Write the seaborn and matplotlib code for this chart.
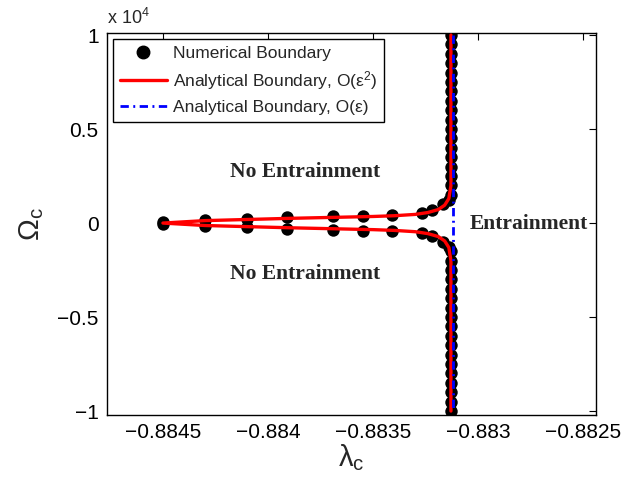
import numpy as np
import pandas as pd
import seaborn as sns
import matplotlib.pyplot as plt
from matplotlib.ticker import FuncFormatter, FixedLocator
from matplotlib.lines import Line2D

# numerical boundary points (lambda_c, Omega_c), upper branch then lower branch
num_lam_up = [-0.8845, -0.8843, -0.8841, -0.88391, -0.88369, -0.88355, -0.88341,
              -0.88327, -0.88322, -0.88317, -0.88314]
num_om_up = [60, 160, 210, 300, 370, 400, 430, 530, 690, 1010, 1250]
num_lam_lo = [-0.8845, -0.8843, -0.8841, -0.88391, -0.88369, -0.88355, -0.88341,
              -0.88327, -0.88322, -0.88317, -0.88314]
num_om_lo = [-60, -160, -210, -300, -370, -400, -430, -530, -690, -1010, -1250]
# points along the vertical part of the boundary
num_lam_vert = -0.88313
num_om_vert = [1500, 2000, 2500, 3000, 3500, 4000, 4500, 5000, 5500, 6000, 6500,
               7000, 7500, 8000, 8500, 9000, 9500, 10000,
               -1500, -2000, -2500, -3000, -3500, -4000, -4500, -5000, -5500, -6000,
               -6500, -7000, -7500, -8000, -8500, -9000, -9500, -10000]

# analytical O(eps^2) boundary, traced from the top, through the tip, to the bottom
an2_lam = [-0.88313, -0.88313, -0.88314, -0.88316, -0.88319, -0.88324, -0.8833,
           -0.8834, -0.8835, -0.8837, -0.8839, -0.8841, -0.8843, -0.8845,
           -0.8843, -0.8841, -0.8839, -0.8837, -0.8835, -0.8834, -0.8833,
           -0.88324, -0.88319, -0.88316, -0.88314, -0.88313, -0.88313]
an2_om = [10000, 2000, 1300, 950, 720, 560, 460, 390, 350, 300, 250, 190, 130, 0,
          -130, -190, -250, -300, -350, -390, -460, -560, -720, -950, -1300, -2000,
          -10000]

# analytical O(eps) boundary: vertical line
an1_lam = [-0.88312, -0.88312]
an1_om = [10000, -10000]

x_ticks = [-0.8845, -0.884, -0.8835, -0.883, -0.8825]
y_ticks = [-10000, -5000, 0, 5000, 10000]

sns.set_style("white")
plt.rcParams["font.family"] = ["Liberation Sans", "DejaVu Sans"]
plt.rcParams["mathtext.fontset"] = "custom"
plt.rcParams["mathtext.rm"] = "Liberation Sans"
plt.rcParams["mathtext.it"] = "Liberation Sans:italic"

fig = plt.figure(figsize=(6.35, 4.87), dpi=100)
ax = fig.add_axes([107 / 635, 1 - 415 / 487, (596 - 107) / 635, (415 - 33) / 487])

num = pd.DataFrame({
    "lam": num_lam_up + num_lam_lo + [num_lam_vert] * len(num_om_vert),
    "om": num_om_up + num_om_lo + num_om_vert,
})
sns.scatterplot(data=num, x="lam", y="om", ax=ax, color="black", s=80,
                edgecolor="black", linewidth=0, zorder=2, legend=False)
sns.lineplot(x=an2_lam, y=an2_om, ax=ax, sort=False, estimator=None,
             color="red", linewidth=2.4, zorder=3)
sns.lineplot(x=an1_lam, y=an1_om, ax=ax, sort=False, estimator=None,
             color="blue", linewidth=2.0, zorder=4, linestyle=(0, (3, 1.6, 0.7, 1.6)))

ax.set_xlim(-0.884766, -0.882440)
ax.set_ylim(-10210, 10110)
ax.xaxis.set_major_locator(FixedLocator(x_ticks))
ax.yaxis.set_major_locator(FixedLocator(y_ticks))
ax.xaxis.set_major_formatter(FuncFormatter(lambda v, p: f"{v:g}".replace("-", "\u2212")))
ax.yaxis.set_major_formatter(FuncFormatter(lambda v, p: f"{v / 1e4:g}".replace("-", "\u2212")))
ax.tick_params(direction="in", length=5, width=0.8, top=True, right=True,
               labelsize=15, colors="black", pad=6)
for s in ax.spines.values():
    s.set_color("black")
    s.set_linewidth(1.0)

ax.set_xlabel("λ$_\\mathregular{c}$", fontsize=21, labelpad=0)
ax.set_ylabel("Ω$_\\mathregular{c}$", fontsize=21, labelpad=8)
ax.text(0.0, 1.012, "x 10$^\\mathregular{4}$", transform=ax.transAxes,
        fontsize=13, ha="left", va="bottom")

txt = dict(family=["Liberation Serif", "DejaVu Serif"], fontweight="bold", fontsize=15.5,
           ha="center", va="center")
ax.text(-0.883825, 2700, "No Entrainment", **txt)
ax.text(-0.883825, -2700, "No Entrainment", **txt)
ax.text(-0.88276, -50, "Entrainment", **txt)

handles = [
    Line2D([], [], marker="o", color="black", linestyle="none", markersize=9),
    Line2D([], [], color="red", linewidth=2.4),
    Line2D([], [], color="blue", linewidth=2.0, linestyle=(0, (3, 1.6, 0.7, 1.6))),
]
labels = ["Numerical Boundary", "Analytical Boundary, O(ε$^\\mathregular{2}$)",
          "Analytical Boundary, O(ε)"]
leg = ax.legend(handles, labels, loc="upper left", fontsize=12.5, frameon=True,
                fancybox=False, framealpha=1, edgecolor="black", borderaxespad=0.35,
                handlelength=2.7, handletextpad=0.35, labelspacing=0.45, borderpad=0.4)
leg.get_frame().set_linewidth(1.0)

fig.savefig("out.png", dpi=100)
